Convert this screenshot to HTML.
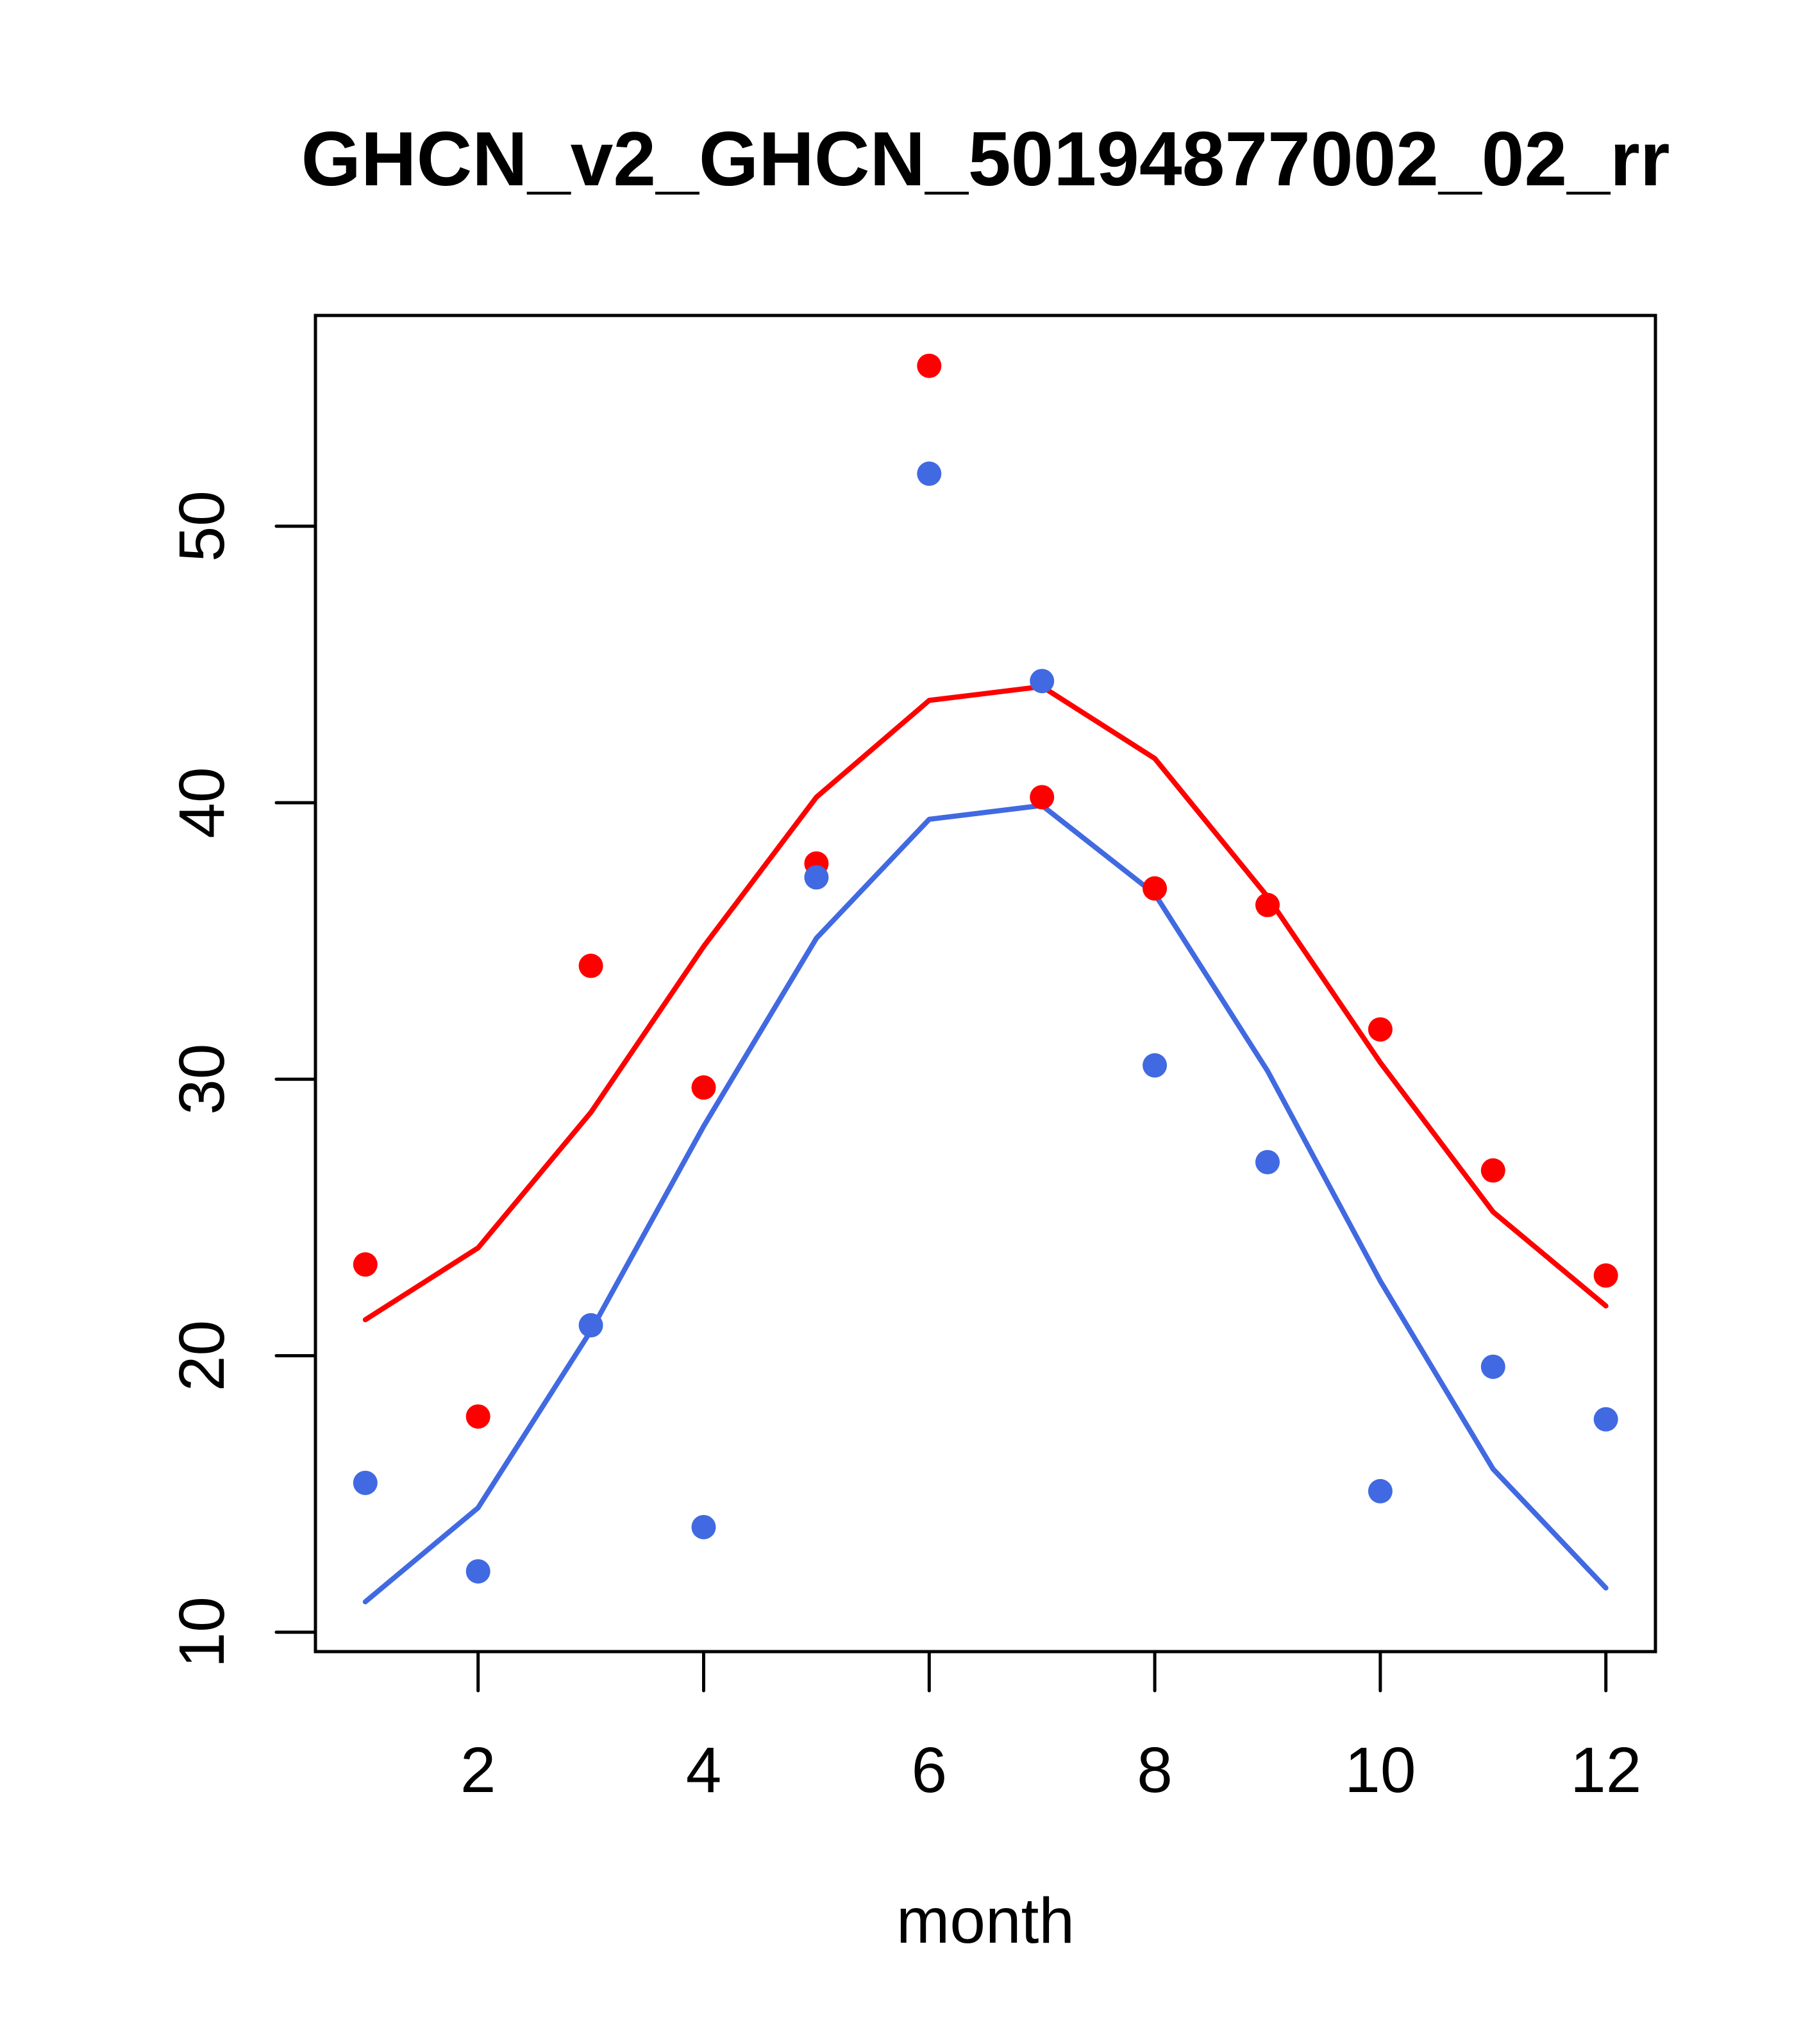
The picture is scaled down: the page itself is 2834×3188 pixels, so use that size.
<!DOCTYPE html>
<html><head><meta charset="utf-8"><style>html,body{margin:0;padding:0;background:#fff}svg{display:block}</style></head>
<body>
<svg id="chart" width="2834" height="3188" viewBox="0 0 2834 3188" xmlns="http://www.w3.org/2000/svg" font-family="Liberation Sans, Arial, sans-serif">
<rect width="2834" height="3188" fill="#fff"/>
<text x="1537" y="289" font-size="120" font-weight="bold" text-anchor="middle">GHCN_v2_GHCN_50194877002_02_rr</text>
<text x="1537" y="3030" font-size="100" text-anchor="middle">month</text>
<g id="plot"></g>
<rect x="492" y="492" width="2090" height="2084" fill="none" stroke="#000" stroke-width="5"/>
</svg>
<script>
const months = [1,2,3,4,5,6,7,8,9,10,11,12];
const redLine = [21.3,23.9,28.8,34.8,40.2,43.7,44.2,41.6,36.6,30.6,25.2,21.8];
const blueLine = [11.1,14.5,20.9,28.3,35.1,39.4,39.9,36.7,30.3,22.7,15.9,11.6];
const redPoints = [23.3,17.8,34.1,29.7,37.8,55.8,40.2,36.9,36.3,31.8,26.7,22.9];
const bluePoints = [15.4,12.2,21.1,13.8,37.3,51.9,44.4,30.5,27.0,15.1,19.6,17.7];
const xTicks = [2,4,6,8,10,12];
const yTicks = [10,20,30,40,50];

function xs(m){return 745.7 + (m-2)*175.9;}
function ys(v){return 2545.7 - (v-10)*43.125;}
const NS='http://www.w3.org/2000/svg';
const g=document.getElementById('plot');
function mk(t,a){const e=document.createElementNS(NS,t);for(const k in a)e.setAttribute(k,a[k]);g.appendChild(e);return e;}

xTicks.forEach(t=>{
  const l=mk('line',{x1:xs(t),x2:xs(t),y1:2576,y2:2637,stroke:'#000','stroke-width':5,'stroke-linecap':'round'});
  
  
  const tx=mk('text',{x:xs(t),y:2795,'font-size':100,'text-anchor':'middle'});
  tx.textContent=t;
  
  
});
yTicks.forEach(t=>{
  const l=mk('line',{x1:431,x2:492,y1:ys(t),y2:ys(t),stroke:'#000','stroke-width':5,'stroke-linecap':'round'});
  
  
  const tx=mk('text',{x:349,y:ys(t),'font-size':100,'text-anchor':'middle',transform:'rotate(-90 349 '+ys(t)+')'});
  tx.textContent=t;
  
  
});
function line(vals,color,name){
  const p=mk('polyline',{points:months.map((m,i)=>xs(m)+','+ys(vals[i])).join(' '),fill:'none',stroke:color,'stroke-width':8,'stroke-linecap':'round','stroke-linejoin':'round'});
  
  
}
function pts(vals,color,name){
  months.forEach((m,i)=>{
    const c=mk('circle',{cx:xs(m),cy:ys(vals[i]),r:19,fill:color});
    
    
  });
}
line(redLine,'#ff0000','red-line');
line(blueLine,'#4169e1','blue-line');
pts(redPoints,'#ff0000','red-point');
pts(bluePoints,'#4169e1','blue-point');
</script>
</body></html>
